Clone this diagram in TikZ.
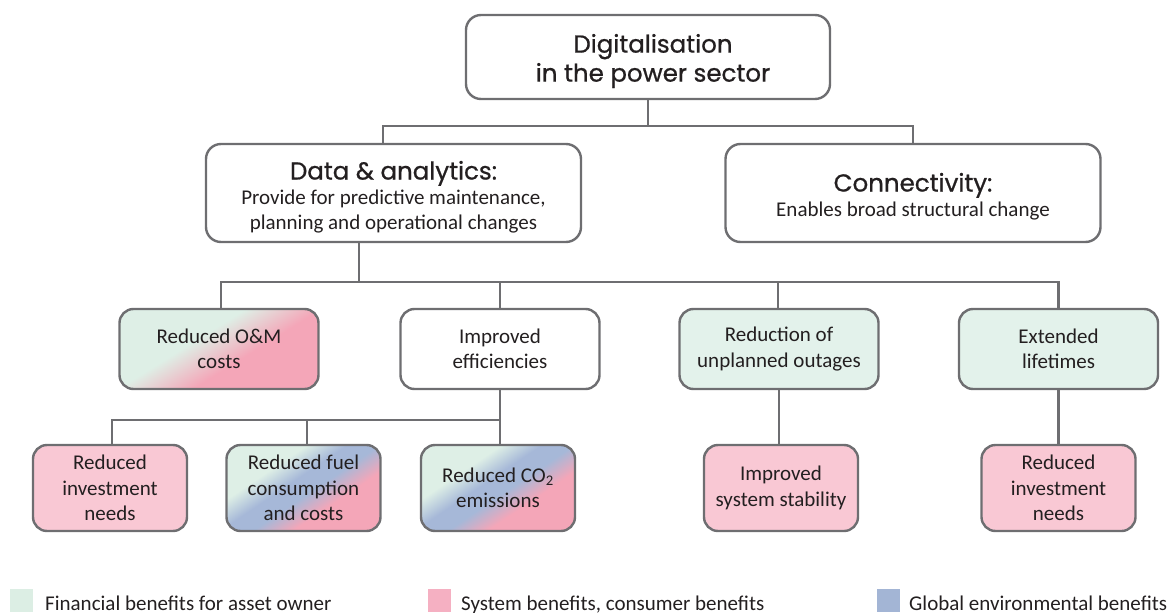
\documentclass[tikz,border=0pt]{standalone}
\usepackage{fontspec}
\setmainfont{Carlito}
\newfontfamily\headfont{Poppins}[FakeBold=0.8]
\definecolor{linegray}{RGB}{110,110,113}
\definecolor{txt}{RGB}{35,31,32}
\definecolor{legmint}{RGB}{220,238,228}
\definecolor{legpink}{RGB}{245,176,194}
\definecolor{legblue}{RGB}{163,181,213}
\definecolor{solidpink}{RGB}{249,200,212}
\definecolor{solidmint}{RGB}{227,242,235}
\definecolor{gmint}{RGB}{222,239,230}
\definecolor{gpink}{RGB}{244,166,184}
\definecolor{gblue}{RGB}{166,184,216}
\pgfdeclareverticalshading{mintpink}{100bp}{color(0bp)=(gpink); color(42bp)=(gpink); color(58bp)=(gmint); color(100bp)=(gmint)}
\pgfdeclareverticalshading{mintbluepink}{100bp}{color(0bp)=(gpink); color(37bp)=(gpink); color(47bp)=(gblue); color(55bp)=(gblue); color(65bp)=(gmint); color(100bp)=(gmint)}
\tikzset{
  box/.style={draw=linegray, line width=2.4pt, rounded corners=15pt, align=center, text=txt,
    inner sep=0pt, font=\fontsize{21}{25.5}\selectfont},
  bigbox/.style={box, minimum width=375pt, minimum height=98pt},
  midbox/.style={box, minimum width=199pt, minimum height=80pt, rounded corners=14pt},
  smallbox/.style={box, minimum width=154pt, minimum height=86pt, rounded corners=14pt},
  boxtext/.style={align=center, text=txt, inner sep=0pt, font=\fontsize{21}{25}\selectfont},
  conn/.style={draw=linegray, line width=2.4pt},
  legsq/.style={minimum width=23pt, minimum height=23pt, inner sep=0pt},
  legtxt/.style={anchor=base west, inner sep=0pt, text=txt, font=\fontsize{21}{25}\selectfont}
}
\begin{document}
\begin{tikzpicture}[x=1pt,y=-1pt]
\useasboundingbox (0,0) rectangle (1173,613);
% level 1
\node[box, minimum width=364pt, minimum height=84pt] (top) at (648,57) {};
\node[boxtext, font=\headfont\fontsize{24.5}{29}\selectfont] (toptxt) at (653,61) {Digitalisation\\in the power sector};
% level 2
\node[bigbox] (data) at (393.5,193) {};
\node[boxtext] (datatxt) at (393.5,197) {{\headfont\fontsize{24.5}{25}\selectfont Data \& analytics:}\\Provide for predictive maintenance,\\planning and operational changes};
\node[bigbox] (conn) at (913,193) {};
\node[boxtext] (conntxt) at (913,196.5) {{\headfont\fontsize{24.5}{24}\selectfont Connectivity:}\\Enables broad structural change};
% level 3
\node[midbox, shade, shading=mintpink, shading angle=32] (om) at (219,349) {Reduced O\&M\\costs};
\node[midbox, fill=white] (eff) at (500,349) {Improved\\efficiencies};
\node[midbox, fill=solidmint] (outage) at (779,349) {Reduction of\\unplanned outages};
\node[midbox, fill=solidmint] (life) at (1058.5,349) {Extended\\lifetimes};
% level 4
\node[smallbox, fill=solidpink] (inv1) at (110,488) {Reduced\\investment\\needs};
\node[smallbox, shade, shading=mintbluepink, shading angle=34] (fuel) at (303.5,488) {Reduced fuel\\consumption\\and costs};
\node[smallbox, shade, shading=mintbluepink, shading angle=34] (co2) at (498,488) {Reduced CO\textsubscript{2}\\emissions};
\node[smallbox, fill=solidpink] (stab) at (781,488) {Improved\\system stability};
\node[smallbox, fill=solidpink] (inv2) at (1058.5,488) {Reduced\\investment\\needs};
% bus coordinates
\coordinate (bus1) at (648,126);
\coordinate (bus2) at (359,282);
\coordinate (bus3) at (500,420);
% connectors level 1 -> 2
\draw[conn] (top.south) -- (bus1);
\draw[conn] ([xshift=-10.5pt]data.north) |- (bus1) -| (conn.north);
% level 2 -> 3
\draw[conn] ([xshift=-34.5pt]data.south) -- (bus2);
\draw[conn] ([xshift=2pt]om.north) |- (bus2) -| (eff.north);
\draw[conn] (bus2) -| ([xshift=-1pt]outage.north);
\draw[conn] (bus2) -| (life.north);
% level 3 -> 4
\draw[conn] (eff.south) -- (bus3);
\draw[conn] ([xshift=2pt]inv1.north) |- (bus3) -- ([xshift=2pt]co2.north);
\draw[conn] ([xshift=3.5pt]fuel.north) |- (bus3);
\draw[conn] (outage.south) -- ([xshift=-2pt]stab.north);
\draw[conn] (life.south) -- (inv2.north);
% legend
\node[legsq, fill=legmint] (l1) at (21.5,600.5) {};
\node[legtxt] (t1) at (45,610) {Financial benefits for asset owner};
\node[legsq, fill=legpink] (l2) at (439.5,600.5) {};
\node[legtxt] (t2) at (461,610) {System benefits, consumer benefits};
\node[legsq, fill=legblue] (l3) at (888.5,600.5) {};
\node[legtxt] (t3) at (909,610) {Global environmental benefits};
\end{tikzpicture}
\end{document}
